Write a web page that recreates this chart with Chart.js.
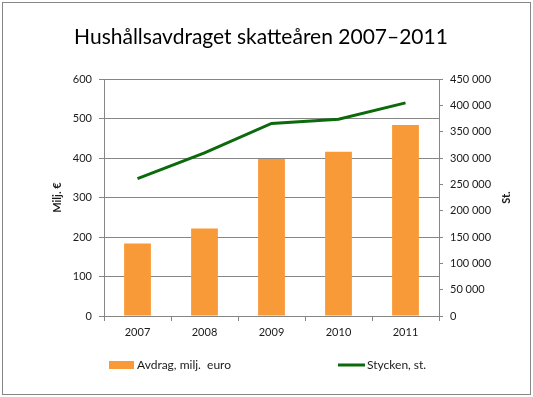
<!DOCTYPE html>
<html>
<head>
<meta charset="utf-8">
<script src="https://cdn.jsdelivr.net/npm/chart.js@4.4.0/dist/chart.umd.min.js"></script>
<style>
  html, body { margin: 0; padding: 0; background: #fff; }
  #wrap { position: relative; width: 533px; height: 397px; }
  #frame { position: absolute; left: 2px; top: 2px; width: 527px; height: 391px; border: 1px solid #868686; pointer-events: none; }
  canvas { position: absolute; left: 0; top: 0; }
</style>
</head>
<body>
<div id="wrap">
  <canvas id="c" width="533" height="397"></canvas>
  <div id="frame"></div>
</div>
<script>
const titleText = 'Hushållsavdraget skatteåren 2007–2011';
const categories = ['2007', '2008', '2009', '2010', '2011'];
const avdragValues = [184, 222, 398, 416, 484];
const styckenValues = [261000, 310000, 366000, 374000, 405000];
const avdragLabel = 'Avdrag, milj.  euro';
const styckenLabel = 'Stycken, st.';
const leftAxisTitle = 'Milj. €';
const rightAxisTitle = 'St.';
const leftTicks = { min: 0, max: 600, step: 100 };
const rightTicks = { min: 0, max: 450000, step: 50000 };

const FONT = 'Lato, "Open Sans", sans-serif';
const ORANGE = '#F99A38';
const GREEN = '#0B6A0B';
const GRID = '#868686';
const TEXT = '#1a1a1a';

const PAD_L = 30, PAD_R = 41;

function fmt(v) {
  return String(v).replace(/\B(?=(\d{3})+(?!\d))/g, ' ');
}

const extrasPlugin = {
  id: 'extras',
  afterDraw(chart) {
    const ctx = chart.ctx;
    const area = chart.chartArea;
    ctx.save();
    // right axis title, reading bottom to top
    ctx.font = 'bold 11px ' + FONT;
    ctx.fillStyle = TEXT;
    ctx.textAlign = 'center';
    ctx.textBaseline = 'middle';
    ctx.translate(506, (area.top + area.bottom) / 2);
    ctx.rotate(-Math.PI / 2);
    ctx.fillText(rightAxisTitle, 0, 0);
    ctx.restore();

    // legend
    const bars = chart.data.datasets.find(d => d.type === 'bar');
    const line = chart.data.datasets.find(d => d.type === 'line');
    ctx.save();
    const ly = 365;
    ctx.fillStyle = bars.backgroundColor;
    ctx.fillRect(109, ly - 4, 25, 8);
    ctx.strokeStyle = line.borderColor;
    ctx.lineWidth = 3;
    ctx.beginPath();
    ctx.moveTo(338, ly);
    ctx.lineTo(365, ly);
    ctx.stroke();
    ctx.font = '12px ' + FONT;
    ctx.fillStyle = TEXT;
    ctx.textAlign = 'left';
    ctx.textBaseline = 'middle';
    ctx.fillText(bars.label, 137, ly);
    ctx.fillText(line.label, 367, ly);
    ctx.restore();
  }
};

new Chart(document.getElementById('c'), {
  data: {
    labels: categories,
    datasets: [
      {
        type: 'line',
        label: styckenLabel,
        data: styckenValues,
        yAxisID: 'y1',
        borderColor: GREEN,
        backgroundColor: GREEN,
        borderWidth: 3,
        pointRadius: 0,
        tension: 0,
        order: 0
      },
      {
        type: 'bar',
        label: avdragLabel,
        data: avdragValues,
        yAxisID: 'y',
        backgroundColor: ORANGE,
        borderWidth: 0,
        barPercentage: 0.8,
        categoryPercentage: 0.5,
        order: 1
      }
    ]
  },
  options: {
    responsive: false,
    animation: false,
    layout: { padding: { left: PAD_L, right: PAD_R, top: 0, bottom: 51 } },
    plugins: {
      legend: { display: false },
      tooltip: { enabled: false },
      title: {
        display: true,
        text: titleText,
        color: '#000',
        font: { family: FONT, size: 21, weight: 'normal' },
        padding: { top: 25, bottom: 29 }
      }
    },
    scales: {
      x: {
        offset: true,
        grid: { display: true, drawOnChartArea: false, drawTicks: true, tickLength: 5, color: GRID, offset: true },
        border: { display: true, color: GRID },
        ticks: { color: TEXT, font: { family: FONT, size: 11 }, padding: 5, maxRotation: 0 },
        afterFit(s) { s.height = 30; }
      },
      y: {
        position: 'left',
        min: leftTicks.min, max: leftTicks.max,
        ticks: { stepSize: leftTicks.step, color: TEXT, font: { family: FONT, size: 11 }, padding: 7 },
        grid: { color: GRID, tickLength: 5 },
        border: { display: true, color: GRID },
        title: { display: true, text: leftAxisTitle, color: TEXT, font: { family: FONT, size: 11, weight: 'bold' }, padding: { top: 21, bottom: 0 } },
        afterFit(s) { s.width = 104 - PAD_L; }
      },
      y1: {
        position: 'right',
        min: rightTicks.min, max: rightTicks.max,
        ticks: { stepSize: rightTicks.step, color: TEXT, font: { family: FONT, size: 11 }, padding: 7, callback: v => fmt(v) },
        grid: { drawOnChartArea: false, color: GRID, tickLength: 4 },
        border: { display: true, color: GRID },
        afterFit(s) { s.width = 533 - PAD_R - 439; }
      }
    }
  },
  plugins: [extrasPlugin]
});
</script>
</body>
</html>
